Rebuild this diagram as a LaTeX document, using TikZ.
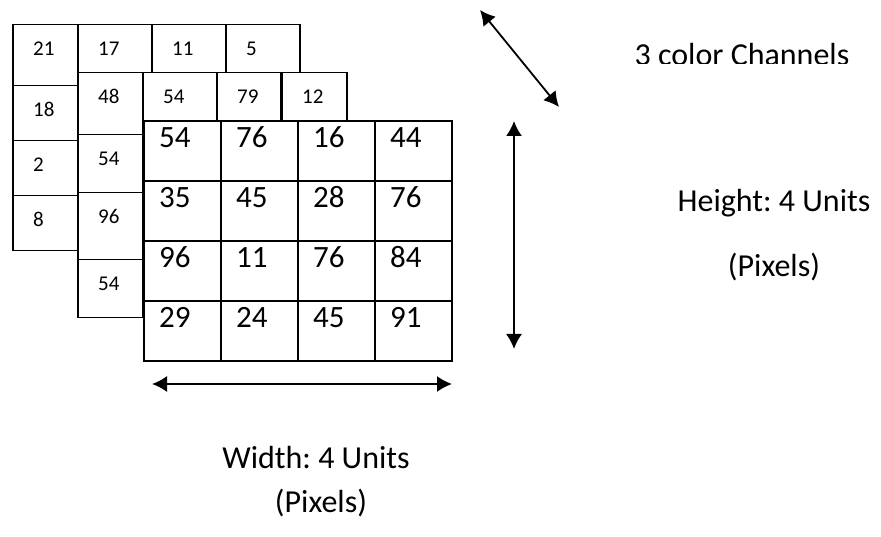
\documentclass[tikz,border=0pt]{standalone}
\usepackage{fontspec}
\setmainfont{Carlito}
\usepackage{tikz}
\usetikzlibrary{arrows.meta}
\frenchspacing

\newcommand\bignum{\fontsize{31}{36}\selectfont}
\newcommand\smallnum{\fontsize{21}{25}\selectfont}
\newcommand\notesize{\fontsize{32}{38}\selectfont}

\tikzset{
  cell/.style={draw, line width=1.5pt, fill=white, inner sep=0pt, anchor=north west},
  bigcell/.style={cell, line width=1.8pt, minimum width=77pt, minimum height=60pt,
    label={[anchor=base west, inner sep=0pt, xshift=16pt, yshift=-28pt, font=\bignum]north west:#1}},
  smallcell/.style={cell,
    label={[anchor=base west, inner sep=0pt, xshift=21pt, yshift=-32pt, font=\smallnum]north west:#1}},
  dimarrow/.style={{Latex[length=15pt,width=16pt]}-{Latex[length=15pt,width=16pt]}, line width=1.8pt},
  note/.style={font=\notesize, inner sep=0pt, anchor=base}
}

\begin{document}
\begin{tikzpicture}[x=1pt, y=-1pt]
\useasboundingbox (0,0) rectangle (881,537);

% back channel
\node[smallcell=21, minimum width=65pt, minimum height=61pt] (b21) at (12,24) {};
\node[smallcell=17, minimum width=74pt, minimum height=48pt] (b17) at (77,24) {};
\node[smallcell=11, minimum width=74pt, minimum height=48pt] (b11) at (151,24) {};
\node[smallcell=5, minimum width=74pt, minimum height=48pt] (b5) at (225,24) {};
\node[smallcell=18, minimum width=65pt, minimum height=55pt] (b18) at (12,85) {};
\node[smallcell=2, minimum width=65pt, minimum height=55pt] (b2) at (12,140) {};
\node[smallcell=8, minimum width=65pt, minimum height=55pt] (b8) at (12,195) {};

% middle channel
\node[smallcell=48, minimum width=65pt, minimum height=62pt] (m48) at (77,72) {};
\node[smallcell=54, minimum width=74pt, minimum height=49pt] (m54a) at (142,72) {};
\node[smallcell=79, minimum width=64pt, minimum height=49pt] (m79) at (216,72) {};
\node[smallcell=12, minimum width=65pt, minimum height=49pt] (m12) at (281,72) {};
\node[smallcell=54, minimum width=65pt, minimum height=58pt] (m54b) at (77,134) {};
\node[smallcell=96, minimum width=65pt, minimum height=67pt] (m96) at (77,192) {};
\node[smallcell=54, minimum width=65pt, minimum height=58pt] (m54c) at (77,259) {};

% front channel, 4x4
\node[bigcell=54] (f11) at (143,120) {};
\node[bigcell=76] (f12) at (220,120) {};
\node[bigcell=16] (f13) at (297,120) {};
\node[bigcell=44] (f14) at (374,120) {};
\node[bigcell=35] (f21) at (143,180) {};
\node[bigcell=45] (f22) at (220,180) {};
\node[bigcell=28] (f23) at (297,180) {};
\node[bigcell=76] (f24) at (374,180) {};
\node[bigcell=96] (f31) at (143,240) {};
\node[bigcell=11] (f32) at (220,240) {};
\node[bigcell=76] (f33) at (297,240) {};
\node[bigcell=84] (f34) at (374,240) {};
\node[bigcell=29] (f41) at (143,300) {};
\node[bigcell=24] (f42) at (220,300) {};
\node[bigcell=45] (f43) at (297,300) {};
\node[bigcell=91] (f44) at (374,300) {};

% arrow ends
\coordinate (depthA) at (480,10);
\coordinate (depthB) at (559,107);
\coordinate (heightA) at (514,121);
\coordinate (heightB) at (514,349);
\coordinate (widthA) at (152,384);
\coordinate (widthB) at (452,384);

\draw[dimarrow] (depthA) -- (depthB);
\draw[dimarrow] (heightA) -- (heightB);
\draw[dimarrow] (widthA) -- (widthB);

% labels (the channel label's text box cuts off its lower edge)
\begin{scope}
\clip (600,30) rectangle (881,64);
\node[note] (channels) at (742,66) {3 color Channels};
\end{scope}
\node[note] (height) at (774,212) {Height: 4 Units};
\node[note] (heightpx) at (774,277) {(Pixels)};
\node[note] (width) at (316,468) {Width: 4 Units};
\node[note] (widthpx) at (321,512) {(Pixels)};
\end{tikzpicture}
\end{document}
